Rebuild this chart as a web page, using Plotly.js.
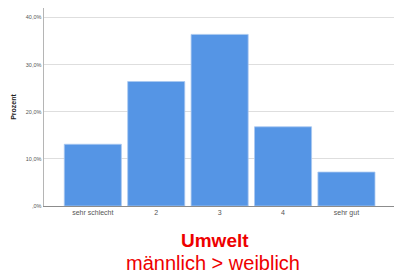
<!DOCTYPE html>
<html><head><meta charset="utf-8">
<script src="https://cdn.plot.ly/plotly-3.0.1.min.js"></script>
<style>html,body{margin:0;padding:0;background:#fff;}#c{width:394px;height:276px;}</style>
</head><body><div id="c"></div>
<script>
const categories = ['sehr schlecht', '2', '3', '4', 'sehr gut'];
const percent = [13.1, 26.4, 36.4, 16.8, 7.2];
const yTickVals = [0, 10, 20, 30, 40];
const yTickText = [',0%', '10,0%', '20,0%', '30,0%', '40,0%'];
const titleMain = 'Umwelt';
const titleSub = 'männlich > weiblich';

Plotly.newPlot('c', [{
  type: 'bar', x: categories, y: percent,
  marker: {color: '#5595e5', line: {color: '#a9c8f0', width: 0.8}},
  hoverinfo: 'none'
}], {
  width: 394, height: 276,
  margin: {l: 44, r: 0, t: 8, b: 70},
  paper_bgcolor: '#fff', plot_bgcolor: '#fff',
  bargap: 0.1,
  showlegend: false,
  font: {family: 'Liberation Sans, Arial, sans-serif'},
  xaxis: {
    type: 'category', range: [-0.77, 4.75],
    showline: true, linecolor: '#8c8c8c', linewidth: 1,
    showgrid: false, ticks: '', tickfont: {size: 7, color: '#555'},
    fixedrange: true
  },
  yaxis: {
    range: [0, 42], tickvals: yTickVals, ticktext: yTickText,
    showline: true, linecolor: '#b5b5b5', linewidth: 1.5,
    showgrid: true, gridcolor: '#dedede', gridwidth: 1,
    zeroline: false, ticks: '', tickfont: {size: 5.5, color: '#555'},
    title: {text: 'Prozent', font: {size: 7, color: '#222', weight: 'bold'}, standoff: 8},
    fixedrange: true
  },
  annotations: [
    {text: '<b>' + titleMain + '</b>', xref: 'paper', yref: 'paper', x: 0.5, y: -0.172, xanchor: 'center', yanchor: 'middle',
     showarrow: false, font: {size: 19, color: '#ee0000', family: 'Liberation Sans, Arial, sans-serif'}, xshift: -4},
    {text: titleSub, xref: 'paper', yref: 'paper', x: 0.5, y: -0.29, xanchor: 'center', yanchor: 'middle',
     showarrow: false, font: {size: 20, color: '#ee0000', family: 'Liberation Sans, Arial, sans-serif'}, xshift: -6}
  ]
}, {displayModeBar: false, staticPlot: true});
</script></body></html>
